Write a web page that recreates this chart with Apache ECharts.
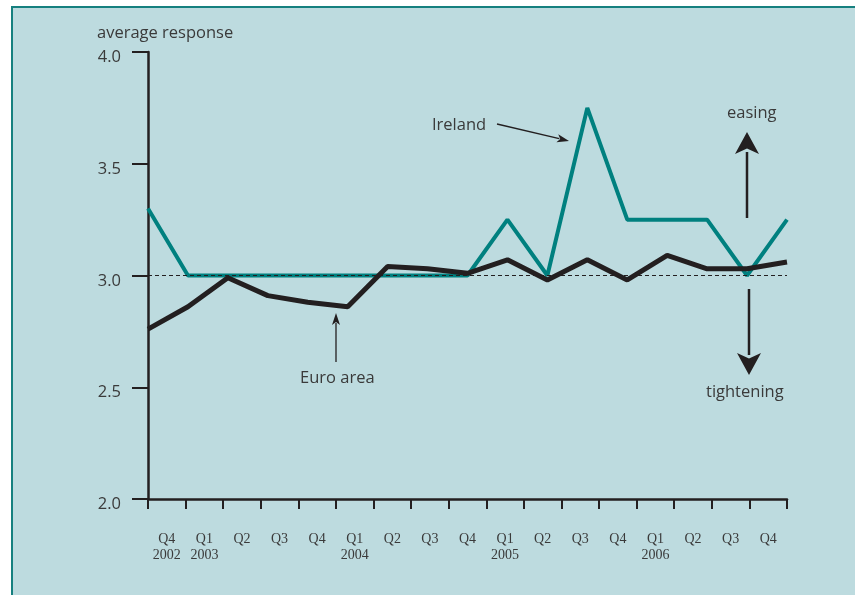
<!DOCTYPE html>
<html><head><meta charset="utf-8">
<script src="https://cdn.jsdelivr.net/npm/echarts@6/dist/echarts.min.js"></script>
<style>html,body{margin:0;padding:0;background:#fff}#c{width:855px;height:595px}</style>
</head><body><div id="c"></div><script>
const quarters = ['Q4\n2002','Q1\n2003','Q2','Q3','Q4','Q1\n2004','Q2','Q3','Q4','Q1\n2005','Q2','Q3','Q4','Q1\n2006','Q2','Q3','Q4'];
const ireland  = [3.3, 3.0, 3.0, 3.0, 3.0, 3.0, 3.0, 3.0, 3.0, 3.25, 3.0, 3.75, 3.25, 3.25, 3.25, 3.0, 3.25];
const euroArea = [2.76, 2.86, 2.99, 2.91, 2.88, 2.86, 3.04, 3.03, 3.01, 3.07, 2.98, 3.07, 2.98, 3.09, 3.03, 3.03, 3.06];
const yMin = 2.0, yMax = 4.0, yStep = 0.5;
const neutral = 3.0;

const txt = '#3a3a3a', ink = '#231f20', teal = '#00807f';
const sans = '"Open Sans", "DejaVu Sans", sans-serif';
const chart = echarts.init(document.getElementById('c'), null, {renderer:'canvas'});

function arrow(x1,y1,x2,y2,headLen,headW,lw){
  const dx=x2-x1, dy=y2-y1, L=Math.hypot(dx,dy), ux=dx/L, uy=dy/L;
  const bx=x2-ux*headLen, by=y2-uy*headLen, px=-uy*headW/2, py=ux*headW/2;
  return [
    {type:'line', shape:{x1:x1,y1:y1,x2:bx+ux*2,y2:by+uy*2}, style:{stroke:ink,lineWidth:lw}, z:10},
    {type:'polygon', shape:{points:[[x2,y2],[bx+px,by+py],[bx+ux*headLen*0.25,by+uy*headLen*0.25],[bx-px,by-py]]}, style:{fill:ink}, z:10}
  ];
}

const F = '16.5px '+sans;
const graphics = [
  {type:'rect', shape:{x:12,y:7,width:900,height:700}, style:{fill:'#bddbdf',stroke:'#16807f',lineWidth:2}, z:-1},
  {type:'text', left:97, top:25, style:{text:'average response', font:F, fill:txt}, z:10},
  {type:'text', left:432, top:117, style:{text:'Ireland', font:F, fill:txt}, z:10},
  {type:'text', left:300, top:370, style:{text:'Euro area', font:F, fill:txt}, z:10},
  {type:'text', left:727, top:105, style:{text:'easing', font:F, fill:txt}, z:10},
  {type:'text', left:706, top:384, style:{text:'tightening', font:F, fill:txt}, z:10},
  ...arrow(497,124,569,141,12,8,1.3),
  ...arrow(336,362,336,313,12,8,1.3),
  ...arrow(747,218,747,132,22,24,2.5),
  ...arrow(749,289,749,375,22,24,2.5)
];

chart.setOption({
  backgroundColor:'#ffffff',
  animation:false,
  grid:{left:148, top:52, right:68, bottom:96, containLabel:false},
  xAxis:[
    {type:'category', data:quarters, boundaryGap:true, position:'bottom',
     axisLine:{show:true, lineStyle:{color:ink,width:2.5}},
     axisTick:{show:true, length:10, interval:0, lineStyle:{color:ink,width:2}},
     axisLabel:{interval:0, margin:32, color:txt, fontFamily:'"Liberation Serif", serif', fontSize:14, lineHeight:16},
     splitLine:{show:false}},
    {type:'category', data:quarters, boundaryGap:false, position:'bottom', show:false}
  ],
  yAxis:{type:'value', min:yMin, max:yMax, interval:yStep,
    axisLine:{show:true, lineStyle:{color:ink,width:2.5}},
    axisTick:{show:true, length:16, lineStyle:{color:ink,width:2}},
    axisLabel:{margin:27, color:txt, fontFamily:sans, fontSize:16.5,
      formatter:v=>'{a|'+v.toFixed(1)+'}',
      rich:{a:{fontFamily:sans, fontSize:16.5, color:txt, padding:[11,0,0,0]}}},
    splitLine:{show:false}},
  series:[
    {name:'Ireland', type:'line', xAxisIndex:1, data:ireland, symbol:'none',
     lineStyle:{color:teal,width:4}, z:3},
    {name:'Euro area', type:'line', xAxisIndex:1, data:euroArea, symbol:'none',
     lineStyle:{color:ink,width:5}, z:4,
     markLine:{silent:true, symbol:'none', label:{show:false},
       lineStyle:{color:ink,width:1,type:[4,3]}, data:[{yAxis:neutral}]}}
  ],
  graphic:graphics
});
</script></body></html>
